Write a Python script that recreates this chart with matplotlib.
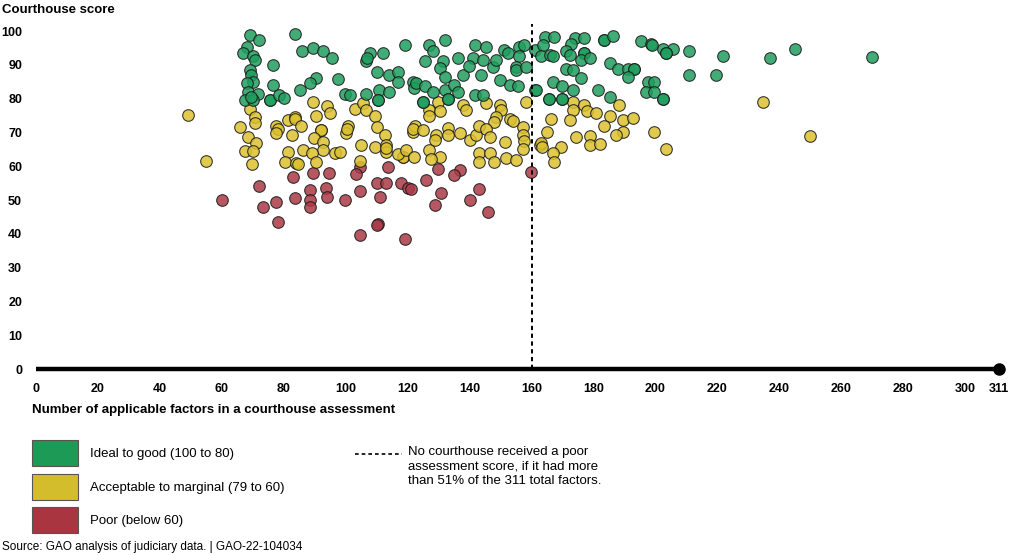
import matplotlib.pyplot as plt
from matplotlib.patches import Rectangle
from matplotlib.lines import Line2D

plt.rcParams['font.family'] = ['Liberation Sans', 'DejaVu Sans']

# (applicable factors, courthouse score)
ideal_good = [
    (69, 98.8), (72, 97.3), (68, 95.4), (66.8, 93.6), (70, 92.5), (70.6, 91.5),
    (69, 88.5), (69.5, 87), (70, 85), (68, 84.5), (68.5, 82), (71.7, 81.5),
    (67.4, 79.6), (70, 79.6), (69.5, 80.5), (75.5, 79.6), (75.5, 79.6), (76.5, 90),
    (76.5, 84), (78.5, 81), (80, 80.3), (83.5, 99),
    (86, 94), (89.5, 95), (92.7, 94), (95.7, 92), (90.5, 86), (88.4, 84.5),
    (85.4, 82.5), (97.5, 85.7), (119, 96), (107.7, 93.4), (106.7, 91), (107, 92),
    (112, 93.4), (110, 87.8), (114, 87), (117, 88), (117, 85), (99.7, 81.3),
    (101.3, 81), (106.7, 81.4), (110.8, 82.5), (114, 82), (110.4, 79.6), (110.4, 79.6),
    (121.7, 85), (122, 83),
    (131.9, 97.3), (127, 95.9), (128.2, 94), (125.5, 91), (122.8, 84.5), (125.5, 83.6),
    (128.2, 82), (125, 79), (125, 79), (131.4, 91), (130.3, 89), (132, 86.5),
    (132, 82.5), (135, 84), (136.2, 82), (133, 80), (133, 80), (136.2, 92),
    (137.8, 87), (141.6, 95.9), (145.4, 95.4), (141, 92), (144.3, 91.4), (139.7, 89.5),
    (143.8, 87), (147.5, 89.4), (148.5, 91.5), (151, 94.4), (152.5, 93.5), (156, 95.4),
    (157.6, 95.9), (156, 92.5), (155, 89.4), (155, 88.5), (158.3, 89.4), (149.7, 85.5),
    (153, 84), (155.7, 83.6), (141.6, 81), (144.3, 81), (161, 82.5),
    (164.2, 98.3), (167.4, 98.3), (161, 94.4), (163.6, 95.9), (163, 92.5), (166, 93),
    (167, 92.5), (174, 97.8), (172.9, 96.3), (177, 98), (183.5, 97.3), (183.5, 97.3),
    (186.2, 98.5), (171.2, 94), (172.3, 93), (177, 93.5), (177, 93.5), (176, 91.4),
    (179, 92), (171.2, 88.9), (173.3, 88.6), (176, 86), (185.2, 90.4), (187.8, 88.9),
    (191, 88.9), (193.2, 88.9), (193.2, 88.9), (191, 86.5), (195.4, 96.9), (198.6, 96.2),
    (197.5, 85), (197, 82), (166.9, 85), (170, 83.6), (173.3, 82.5), (161.5, 82.5),
    (165.8, 79.8), (165.8, 79.8), (170, 79.8), (170, 79.8), (181.4, 82.4), (185.2, 80.6),
    (199, 96), (202.4, 94.6), (205.6, 94.6), (203.4, 93.4), (203.4, 93.4), (210.7, 94),
    (221.7, 92.5), (237, 92), (245, 94.7), (270, 92.2), (210.7, 87), (219.6, 86.9),
    (199.7, 85), (199.7, 82), (202.4, 79.9), (202.4, 79.9),
]

acceptable_marginal = [
    (49, 75.1), (55, 61.6), (69, 77), (66, 71.7), (70.6, 74.6), (70.6, 72.7),
    (68.4, 68.7), (71, 66.8), (67.4, 64.4), (70, 64.4), (69.6, 60.8), (77.6, 72),
    (78, 71), (77.6, 69.8), (81.4, 73.8), (83.5, 74.6), (82.5, 69.2), (81.3, 64.3),
    (80.3, 61.3), (84, 61),
    (89.5, 79), (93.8, 77.8), (95, 75.6), (90.5, 75), (83.5, 74), (85.7, 72),
    (92, 70.7), (92, 70.7), (100.7, 72), (100.2, 69.7), (100.5, 71), (89.7, 68.2),
    (92.7, 67.3), (92.7, 64.8), (86.2, 64.8), (89, 64), (96.5, 64), (98, 64.2),
    (90.5, 61.3), (84.6, 60.8), (103, 76.8), (105.6, 78.6), (106.5, 76.6), (109.4, 75),
    (110, 71.7), (105, 66.3), (109.4, 65.8), (112.6, 69.2), (113, 66.3), (113, 64.3),
    (113, 65.5), (104.5, 61.6), (118.5, 62.8), (118.5, 62.8), (117, 63.5), (119.6, 64.8),
    (121.7, 70.2), (122.3, 72),
    (129.8, 79), (127, 76.6), (130.6, 76.3), (127, 75), (137.8, 78), (138.9, 76.6),
    (145.4, 78.6), (149.7, 78), (150, 76.6), (148.6, 74.6), (148, 73), (153, 74),
    (154, 73.5), (158.3, 79), (121.7, 71), (125, 70.7), (129.2, 69.2), (128.7, 67.8),
    (133, 71.2), (133, 69.2), (136.8, 69.7), (140, 67.8), (142, 69.2), (143.2, 72),
    (145.4, 71), (146.5, 68.7), (151.3, 67.3), (157.2, 71.7), (157.2, 69.2), (157.7, 67.5),
    (157.2, 65.2), (127, 64.8), (130.3, 62.8), (127.6, 62), (122.2, 62.8), (143.2, 63.8),
    (146.5, 63.8), (143.2, 61.3), (148, 61.3), (151.8, 62.3), (155, 61.8), (162.6, 66.3),
    (173.3, 79), (173.3, 76.6), (172.3, 73.7), (177, 78), (178, 76.3), (180.8, 75.6),
    (185.2, 74.9), (188.4, 78), (189.5, 73.8), (192.7, 74.4), (183.5, 71.9), (166.4, 74),
    (164.9, 70.2), (189.5, 70.2), (187.4, 69.2), (174.4, 68.5), (179, 68.8), (179, 66.3),
    (182.2, 66.5), (199.7, 70), (163, 66.8), (163.5, 65.8), (169.6, 65.6), (166.9, 63.8),
    (167.4, 61.3), (234.8, 78.9), (250, 68.8), (203.4, 65),
]

poor = [
    (60.2, 50), (83, 56.9), (72, 54), (73.3, 48), (77.4, 49.5), (78.2, 43.6), (83.5, 50.5),
    (113.7, 59.8), (104.5, 59.8), (103.4, 57.7), (89.5, 58), (94.6, 57.9), (88.4, 53),
    (93.5, 53.7), (88.4, 50), (93.8, 51), (99.7, 50), (88.4, 48), (104.5, 52.7),
    (110, 54.9), (111, 51), (113, 54.9), (118, 54.9), (120, 53.7), (110.4, 43),
    (110, 42.5), (104.5, 39.6), (119, 38.6),
    (129.8, 59.3), (136.8, 59), (135, 57.4), (126, 55.9), (121.2, 53.4), (130.9, 52),
    (143.2, 53.4), (140, 50), (128.7, 48.5), (145.9, 46.6), (159.9, 58.4),
]

x_ticks = [0, 20, 40, 60, 80, 100, 120, 140, 160, 180, 200, 220, 240, 260, 280, 300, 311]
y_ticks = [0, 10, 20, 30, 40, 50, 60, 70, 80, 90, 100]
cutoff = 160
total_factors = 311

categories = ['Ideal to good (100 to 80)', 'Acceptable to marginal (79 to 60)', 'Poor (below 60)']
point_colors = ['#1f9e5e', '#dcc12e', '#ab3a47']
legend_colors = ['#1d9a56', '#d4bd2c', '#a8353f']

fig = plt.figure(figsize=(10.24, 5.55), dpi=100)
ax = fig.add_axes([0.03516, 0.3229, 0.9527, 0.6456])
ax.set_xlim(0, 315)
ax.set_ylim(-2, 104)
for s in ax.spines.values():
    s.set_visible(False)

# draw poor first, ideal last
for pts, color in [(poor, point_colors[2]), (acceptable_marginal, point_colors[1]),
                   (ideal_good, point_colors[0])]:
    xs, ys = zip(*pts)
    ax.scatter(xs, ys, s=70, c=color, alpha=0.85, edgecolors='#1a1a1a',
               linewidths=0.8, zorder=3)

ax.plot([0, total_factors], [0, 0], color='black', lw=3.2, solid_capstyle='butt',
        clip_on=False, zorder=4)
ax.plot([total_factors], [0], 'o', ms=8, color='black', clip_on=False, zorder=4)
ax.plot([cutoff, cutoff], [0, 102], color='black', lw=1.4, ls=(0, (2.2, 1.8)), zorder=5)

ax.set_xticks(x_ticks)
ax.set_xticklabels([str(t) for t in x_ticks], fontweight='bold')
ax.set_yticks(y_ticks)
ax.set_yticklabels([str(t) for t in y_ticks], fontweight='bold')
ax.tick_params(axis='x', length=0, pad=5, labelsize=9)
ax.tick_params(axis='y', length=0, pad=10, labelsize=9)

fig.text(0.002, 1 - 10 / 555, 'Courthouse score', fontsize=9.5, fontweight='bold', va='center')
fig.text(32 / 1024, 1 - 410 / 555, 'Number of applicable factors in a courthouse assessment',
         fontsize=9.5, fontweight='bold', va='center')

box_tops = [440, 474, 507]
for label, color, top in zip(categories, legend_colors, box_tops):
    fig.add_artist(Rectangle((32 / 1024, 1 - (top + 26) / 555), 46 / 1024, 26 / 555,
                             transform=fig.transFigure, fc=color, ec='#555555', lw=0.8))
    fig.text(90 / 1024, 1 - (top + 14) / 555, label, fontsize=9.5, va='center')

fig.add_artist(Line2D([355 / 1024, 402 / 1024], [1 - 454 / 555] * 2, transform=fig.transFigure,
                      color='black', lw=1.2, ls=(0, (2.2, 1.8))))
fig.text(408 / 1024, 1 - 446 / 555,
         'No courthouse received a poor\nassessment score, if it had more\n'
         'than 51% of the 311 total factors.',
         fontsize=9.5, va='top', linespacing=1.25)

fig.text(0.002, 1 - 547 / 555, 'Source: GAO analysis of judiciary data. | GAO-22-104034',
         fontsize=8.5, va='center')

fig.savefig('out.png', dpi=100)
plt.close()
